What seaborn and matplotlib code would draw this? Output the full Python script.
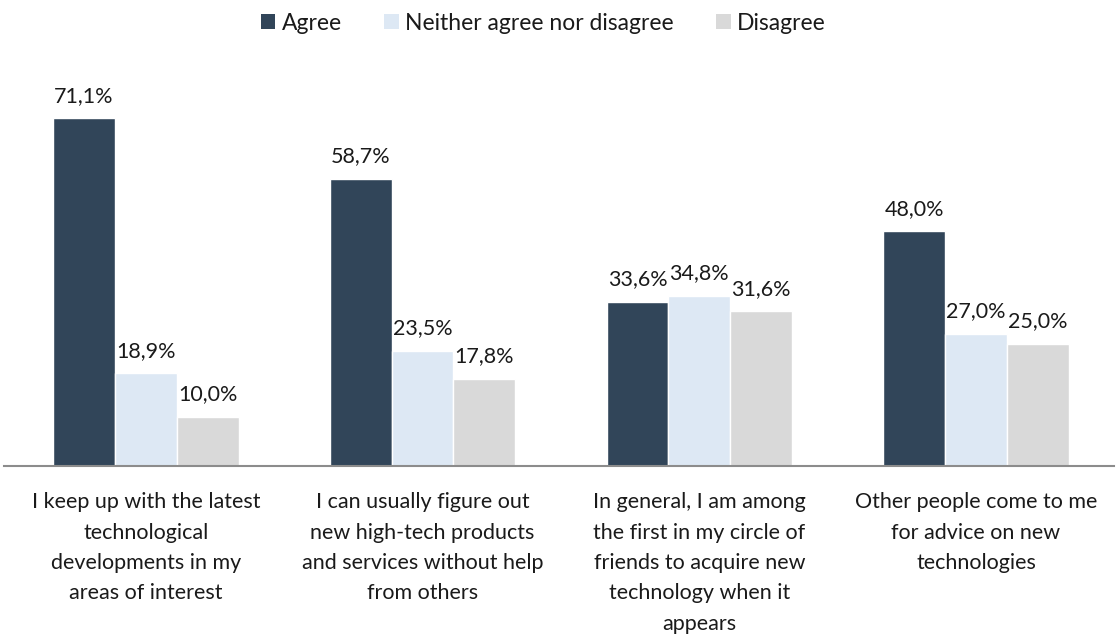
import matplotlib
matplotlib.use("Agg")
import matplotlib.pyplot as plt
import seaborn as sns
import pandas as pd
from matplotlib.patches import Patch

statements = [
    "I keep up with the latest\ntechnological\ndevelopments in my\nareas of interest",
    "I can usually figure out\nnew high-tech products\nand services without help\nfrom others",
    "In general, I am among\nthe first in my circle of\nfriends to acquire new\ntechnology when it\nappears",
    "Other people come to me\nfor advice on new\ntechnologies",
]
responses = ["Agree", "Neither agree nor disagree", "Disagree"]
agree = [71.1, 58.7, 33.6, 48.0]
neither = [18.9, 23.5, 34.8, 27.0]
disagree = [10.0, 17.8, 31.6, 25.0]
colors = ["#314559", "#DDE8F4", "#D9D9D9"]

rows = []
for resp, vals in zip(responses, [agree, neither, disagree]):
    for stmt, v in zip(statements, vals):
        rows.append({"statement": stmt, "response": resp, "value": v})
df = pd.DataFrame(rows)

sns.set_theme(style="white")
plt.rcParams["font.family"] = ["Lato", "DejaVu Sans"]
FS = 15.5

fig = plt.figure(figsize=(11.18, 6.39), dpi=100)
ax = fig.add_axes([0.004, 0.271, 0.992, 0.635])

sns.barplot(data=df, x="statement", y="value", hue="response",
            order=statements, hue_order=responses,
            palette=dict(zip(responses, colors)),
            width=0.67, gap=0, saturation=1, errorbar=None,
            legend=False, ax=ax)

for cont in ax.containers:
    ax.bar_label(cont, labels=[f"{v:.1f}%".replace(".", ",") for v in cont.datavalues],
                 padding=9, fontsize=FS, color="#1a1a1a")

ax.set_ylim(0, 83)
ax.set_xlim(-0.511, 3.497)
ax.set_yticks([])
ax.set_xlabel("")
ax.set_ylabel("")
for s in ["top", "right", "left"]:
    ax.spines[s].set_visible(False)
ax.spines["bottom"].set_color("#8c8c8c")
ax.spines["bottom"].set_linewidth(1.5)
ax.tick_params(axis="x", length=0, pad=19)
for lbl in ax.get_xticklabels():
    lbl.set_fontsize(FS)
    lbl.set_linespacing(1.65)
    lbl.set_color("#1a1a1a")
    lbl.set_verticalalignment("top")

handles = [Patch(facecolor=c, edgecolor="none") for c in colors]
fig.legend(handles, responses, loc="center", bbox_to_anchor=(0.486, 0.964),
           ncol=3, frameon=False, fontsize=16.5, handlelength=0.65,
           handleheight=0.65, handletextpad=0.27, columnspacing=1.85,
           labelcolor="#1a1a1a")

fig.savefig("out.png", dpi=100, facecolor="white")
